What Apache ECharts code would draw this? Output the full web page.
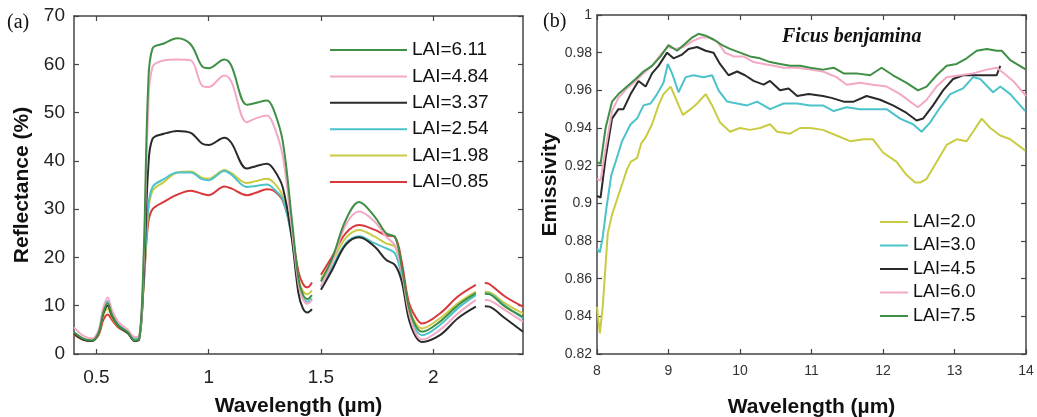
<!DOCTYPE html>
<html>
<head>
<meta charset="utf-8">
<script src="https://cdn.jsdelivr.net/npm/echarts@6/dist/echarts.min.js"></script>
<style>
html,body{margin:0;padding:0;background:#fff;}
#c{width:1037px;height:417px;}
</style>
</head>
<body>
<div id="c"></div>
<script>
// ---------- Panel (a): reflectance ----------
const wlA = [0.40,0.44,0.48,0.51,0.53,0.55,0.57,0.60,0.64,0.67,0.69,0.71,0.73,0.75,0.80,0.86,0.92,0.97,1.00,1.07,1.10,1.17,1.21,1.26,1.29,1.33,1.37,1.40,1.42,1.44,1.46,1.48,1.50,1.55,1.61,1.67,1.74,1.79,1.83,1.86,1.89,1.92,1.95,2.03,2.11,2.19,2.21,2.23,2.25,2.32,2.40];
const refl611 = [4.5,3.2,2.8,4.5,8.5,10.5,8.0,5.8,4.5,2.8,3.0,20,55,63.3,64.3,65.4,64.1,59.6,59.2,61.0,59.8,51.6,52.0,52.5,50.5,44.0,28,15.5,12.3,11.4,12.2,null,15.0,19.8,27.7,31.5,28.4,25.0,24.2,18,10,6.0,4.6,6.7,10.1,12.6,null,12.5,12.4,9.8,7.7];
const refl484 = [5.5,3.8,3.2,5.0,9.5,11.7,9.0,6.5,5.0,3.5,3.6,18,50,59.5,60.8,61.0,60.8,55.6,55.3,57.7,56.5,48.0,48.8,49.4,47.3,41.0,26,14.5,11.3,10.4,11.2,null,14.0,19.0,26.7,29.5,27.4,24.3,22.5,17,9,4.5,3.0,5.0,8.4,11.2,null,11.2,11.1,9.1,6.7];
const refl337 = [4.3,3.0,2.7,4.5,8.3,10.0,7.8,5.7,4.3,2.7,3.0,15,38,44.6,45.6,46.2,45.8,43.6,43.3,44.8,43.8,38.4,38.9,39.4,38.2,34.5,24,12.5,9.4,8.6,9.3,null,13.3,17.4,22.6,24.2,22.2,19.5,18.4,15,7.5,3.8,2.5,3.9,7.4,9.8,null,9.9,9.8,7.4,4.6];
const refl254 = [4.5,3.2,2.8,4.7,9.0,11.0,8.3,6.0,4.6,3.2,3.3,15,30,34.6,36.2,37.6,37.6,36.2,36.0,37.9,37.2,34.6,34.8,35.1,34.2,32.0,24,14.0,11.5,10.8,11.5,null,14.0,18.0,22.9,24.4,22.9,21.9,20.8,16,9,5.2,3.9,6.0,9.5,12.2,null,12.6,12.5,10.0,7.4];
const refl198 = [4.4,3.2,2.8,4.4,8.0,9.3,7.5,5.6,4.4,3.3,3.5,14,29,33.8,35.6,37.6,37.8,36.5,36.3,38.1,37.5,35.4,35.8,36.3,35.5,32.7,24.5,15.5,13.0,12.4,13.2,null,15.5,19.2,24.0,25.7,24.3,22.9,22.2,17,10,6.5,5.3,7.4,10.5,12.9,null,12.9,12.8,10.5,8.4];
const refl085 = [4.0,3.0,2.8,4.0,7.0,8.2,7.0,5.4,4.4,3.5,3.6,14,27,30.0,31.5,33.0,33.8,33.2,32.9,34.7,34.3,32.9,33.4,34.1,33.8,31.7,25,17.0,14.5,13.8,14.8,null,16.4,20.2,25.0,26.7,25.7,24.6,24.2,19,11,7.8,6.3,8.4,11.9,14.3,null,14.7,14.5,11.9,9.8];
const namesA = ['LAI=6.11','LAI=4.84','LAI=3.37','LAI=2.54','LAI=1.98','LAI=0.85'];
const ticksA_x = [0.5,1,1.5,2];

// ---------- Panel (b): emissivity ----------
const emis20 = [[8.0,0.845],[8.04,0.831],[8.08,0.845],[8.15,0.884],[8.21,0.894],[8.28,0.902],[8.35,0.910],[8.42,0.918],[8.47,0.922],[8.56,0.924],[8.62,0.932],[8.68,0.935],[8.77,0.942],[8.86,0.952],[8.93,0.958],[9.03,0.962],[9.12,0.954],[9.2,0.947],[9.31,0.950],[9.40,0.953],[9.52,0.958],[9.61,0.952],[9.72,0.943],[9.86,0.938],[10.0,0.940],[10.14,0.939],[10.28,0.940],[10.42,0.942],[10.52,0.938],[10.70,0.937],[10.84,0.940],[10.98,0.940],[11.16,0.939],[11.35,0.936],[11.54,0.933],[11.73,0.934],[11.86,0.934],[12.0,0.927],[12.19,0.922],[12.33,0.915],[12.45,0.911],[12.52,0.911],[12.61,0.913],[12.75,0.922],[12.89,0.931],[13.03,0.934],[13.17,0.933],[13.26,0.938],[13.38,0.945],[13.5,0.940],[13.64,0.936],[13.78,0.934],[13.99,0.928]];
const emis30 = [[8.0,0.876],[8.04,0.874],[8.08,0.882],[8.13,0.897],[8.2,0.915],[8.26,0.922],[8.35,0.933],[8.47,0.942],[8.56,0.945],[8.65,0.952],[8.75,0.953],[8.84,0.958],[8.93,0.964],[8.99,0.974],[9.05,0.969],[9.14,0.959],[9.24,0.967],[9.35,0.968],[9.49,0.967],[9.61,0.968],[9.70,0.960],[9.82,0.954],[9.96,0.953],[10.1,0.952],[10.24,0.954],[10.42,0.950],[10.61,0.953],[10.8,0.953],[10.98,0.952],[11.16,0.952],[11.31,0.949],[11.49,0.951],[11.68,0.950],[11.86,0.950],[12.05,0.950],[12.24,0.945],[12.42,0.942],[12.54,0.938],[12.66,0.943],[12.80,0.951],[12.94,0.958],[13.12,0.961],[13.26,0.967],[13.36,0.966],[13.54,0.959],[13.64,0.962],[13.78,0.958],[13.99,0.949]];
const emis45 = [[8.0,0.904],[8.05,0.903],[8.12,0.924],[8.21,0.945],[8.3,0.950],[8.37,0.950],[8.47,0.958],[8.58,0.965],[8.68,0.962],[8.77,0.969],[8.86,0.973],[8.98,0.980],[9.07,0.977],[9.19,0.979],[9.28,0.982],[9.40,0.983],[9.52,0.981],[9.63,0.980],[9.72,0.974],[9.84,0.968],[9.96,0.970],[10.07,0.968],[10.19,0.965],[10.33,0.963],[10.42,0.965],[10.56,0.960],[10.68,0.961],[10.8,0.957],[10.96,0.958],[11.16,0.957],[11.28,0.956],[11.45,0.954],[11.59,0.954],[11.77,0.957],[11.96,0.955],[12.14,0.952],[12.33,0.948],[12.47,0.944],[12.56,0.945],[12.7,0.952],[12.84,0.960],[12.98,0.966],[13.12,0.968],[13.31,0.968],[13.5,0.968],[13.59,0.968],[13.64,0.973]];
const emis60 = [[8.0,0.913],[8.05,0.912],[8.12,0.929],[8.21,0.949],[8.3,0.956],[8.42,0.961],[8.54,0.965],[8.65,0.969],[8.77,0.973],[8.89,0.979],[8.99,0.983],[9.1,0.982],[9.21,0.983],[9.33,0.986],[9.45,0.988],[9.56,0.988],[9.68,0.986],[9.79,0.980],[9.91,0.978],[10.05,0.978],[10.19,0.975],[10.33,0.974],[10.47,0.973],[10.61,0.972],[10.8,0.972],[10.98,0.971],[11.16,0.970],[11.35,0.967],[11.49,0.963],[11.68,0.964],[11.86,0.963],[12.05,0.962],[12.24,0.958],[12.38,0.954],[12.49,0.951],[12.61,0.955],[12.75,0.962],[12.89,0.967],[13.08,0.968],[13.26,0.969],[13.45,0.971],[13.59,0.972],[13.66,0.970],[13.82,0.965],[14.0,0.957]];
const emis75 = [[8.0,0.922],[8.05,0.921],[8.12,0.940],[8.21,0.954],[8.3,0.958],[8.42,0.962],[8.54,0.966],[8.65,0.970],[8.77,0.973],[8.89,0.978],[9.0,0.984],[9.12,0.981],[9.24,0.985],[9.33,0.988],[9.42,0.990],[9.52,0.989],[9.63,0.987],[9.75,0.984],[9.86,0.982],[10.0,0.980],[10.14,0.978],[10.28,0.977],[10.42,0.975],[10.56,0.974],[10.7,0.973],[10.84,0.973],[10.98,0.972],[11.16,0.971],[11.31,0.972],[11.45,0.969],[11.63,0.969],[11.82,0.968],[11.98,0.972],[12.14,0.968],[12.33,0.964],[12.49,0.960],[12.61,0.962],[12.75,0.968],[12.89,0.973],[13.03,0.974],[13.17,0.977],[13.31,0.981],[13.45,0.982],[13.59,0.981],[13.66,0.981],[13.78,0.976],[14.0,0.971]];
const namesB = ['LAI=2.0','LAI=3.0','LAI=4.5','LAI=6.0','LAI=7.5'];

const C = {green:'#3f8f45', pink:'#f3a8c6', black:'#2a2a2a', cyan:'#4cc2cb', yellow:'#c9cc42', red:'#d8383a'};
const FONT = "'Liberation Sans', Arial, sans-serif";
const AX = '#444';

function pairs(xs, ys){ return xs.map((x,i)=> ys[i]==null ? [x,'-'] : [x, ys[i]]); }

const seriesA = [refl611, refl484, refl337, refl254, refl198, refl085];
const colorsA = [C.green, C.pink, C.black, C.cyan, C.yellow, C.red];
const seriesB = [emis20, emis30, emis45, emis60, emis75];
const colorsB = [C.yellow, C.cyan, C.black, C.pink, C.green];

function frameAxis(extra){
  return Object.assign({
    type:'value', splitLine:{show:false},
    axisLine:{show:true, onZero:false, lineStyle:{color:AX, width:1.5}},
    axisTick:{show:true, inside:true, length:5, lineStyle:{color:AX, width:1.2}},
    axisLabel:{show:false}
  }, extra);
}

const series = [];
seriesA.forEach((d,i)=>series.push({
  name:namesA[i], type:'line', xAxisIndex:0, yAxisIndex:0, data:pairs(wlA,d),
  symbol:'none', smooth:0.35, connectNulls:false,
  lineStyle:{color:colorsA[i], width:2}, itemStyle:{color:colorsA[i]}, z:10-i
}));
seriesB.forEach((d,i)=>series.push({
  name:namesB[i], type:'line', xAxisIndex:2, yAxisIndex:2, data:d,
  symbol:'none', lineStyle:{color:colorsB[i], width:2}, itemStyle:{color:colorsB[i]}
}));

const chart = echarts.init(document.getElementById('c'), null, {renderer:'canvas'});
chart.setOption({
  animation:false,
  backgroundColor:'#fff',
  grid:[
    {left:74, top:16, width:449, height:338, containLabel:false, outerBoundsMode:'none'},
    {left:597, top:15, width:429, height:339, containLabel:false, outerBoundsMode:'none'}
  ],
  xAxis:[
    frameAxis({gridIndex:0, position:'bottom', min:0.4, max:2.4,
      axisTick:{show:true, inside:true, length:5, customValues:ticksA_x, lineStyle:{color:AX, width:1.2}},
      axisLabel:{show:true, customValues:ticksA_x, color:'#222', fontSize:19, fontFamily:FONT, margin:14},
      name:'Wavelength (µm)', nameLocation:'middle', nameGap:42,
      nameTextStyle:{fontSize:21, fontWeight:'bold', color:'#111', fontFamily:FONT}}),
    frameAxis({gridIndex:0, position:'top', min:0.4, max:2.4,
      axisTick:{show:true, inside:true, length:5, customValues:ticksA_x, lineStyle:{color:AX, width:1.2}}}),
    frameAxis({gridIndex:1, position:'bottom', min:8, max:14, interval:1,
      axisLabel:{show:true, color:'#333', fontSize:14, fontFamily:FONT, margin:10},
      name:'Wavelength (µm)', nameLocation:'middle', nameGap:43,
      nameTextStyle:{fontSize:21, fontWeight:'bold', color:'#111', fontFamily:FONT}}),
    frameAxis({gridIndex:1, position:'top', min:8, max:14, interval:1})
  ],
  yAxis:[
    frameAxis({gridIndex:0, position:'left', min:0, max:70, interval:10,
      axisLabel:{show:true, color:'#222', fontSize:19, fontFamily:FONT, margin:9},
      name:'Reflectance (%)', nameLocation:'middle', nameGap:41,
      nameTextStyle:{fontSize:21, fontWeight:'bold', color:'#111', fontFamily:FONT}}),
    frameAxis({gridIndex:0, position:'right', min:0, max:70, interval:10}),
    frameAxis({gridIndex:1, position:'left', min:0.82, max:1, interval:0.02,
      axisLabel:{show:true, color:'#333', fontSize:14, fontFamily:FONT, margin:5},
      name:'Emissivity', nameLocation:'middle', nameGap:30,
      nameTextStyle:{fontSize:21, fontWeight:'bold', color:'#111', fontFamily:FONT}}),
    frameAxis({gridIndex:1, position:'right', min:0.82, max:1, interval:0.02})
  ],
  legend:[
    {orient:'vertical', left:325, top:35, itemWidth:77, itemHeight:2, icon:'rect', itemGap:6.4,
      data:namesA, textStyle:{fontSize:19, lineHeight:20, color:'#111', fontFamily:FONT}},
    {orient:'vertical', left:875, top:208, itemWidth:28, itemHeight:2, icon:'rect', itemGap:5.5,
      data:namesB, textStyle:{fontSize:18, lineHeight:18, color:'#111', fontFamily:FONT}}
  ],
  graphic:[
    {type:'text', left:7, top:13, style:{text:'(a)', font:"20px 'Liberation Serif', 'Times New Roman', serif", fill:'#111'}},
    {type:'text', left:543, top:12, style:{text:'(b)', font:"20px 'Liberation Serif', 'Times New Roman', serif", fill:'#111'}},
    {type:'text', left:782, top:27, style:{text:'Ficus benjamina', font:"italic bold 20px 'Liberation Serif', 'Times New Roman', serif", fill:'#111'}}
  ],
  series:series
});
</script>
</body>
</html>
